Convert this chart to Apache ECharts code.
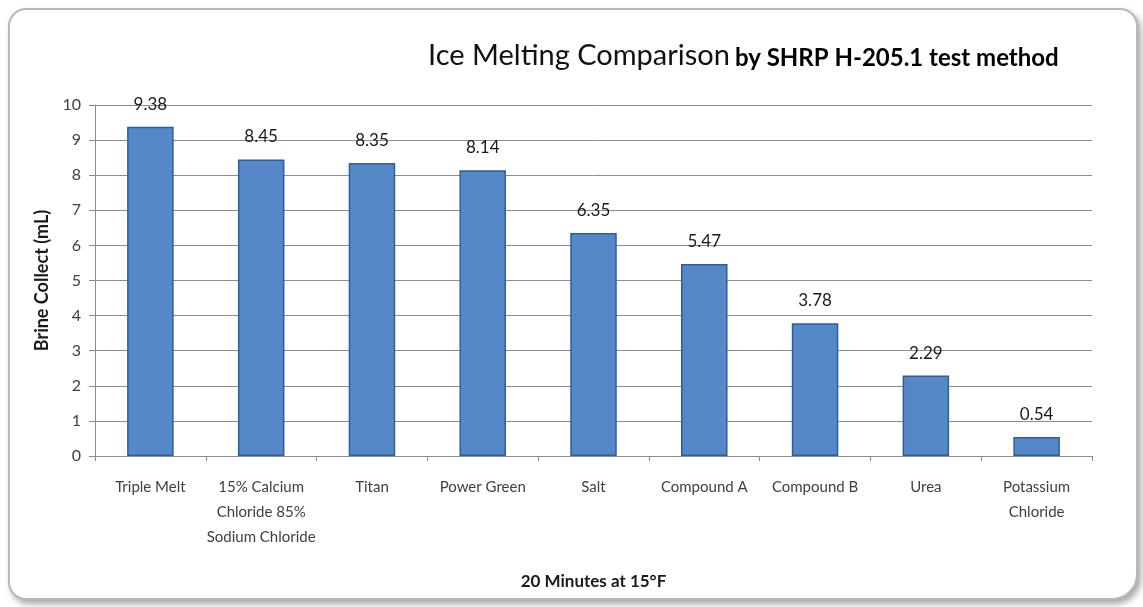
<!DOCTYPE html>
<html>
<head>
<meta charset="utf-8">
<script src="https://cdn.jsdelivr.net/npm/echarts@6/dist/echarts.min.js"></script>
<style>
  html, body { margin: 0; padding: 0; background: #ffffff; }
  #frame {
    position: absolute; left: 8px; top: 8px; width: 1126px; height: 588px;
    border: 2px solid #b8b8b8; border-radius: 18px 18px 26px 18px;
    box-shadow: 3px 4px 6px rgba(0,0,0,0.35);
    background: #ffffff;
  }
  #chart { position: absolute; left: 0; top: 0; width: 1143px; height: 607px; }
</style>
</head>
<body>
<div id="frame"></div>
<div id="chart"></div>
<script>
// chart data
var categories = ['Triple Melt', '15% Calcium\nChloride 85%\nSodium Chloride', 'Titan', 'Power Green', 'Salt', 'Compound A', 'Compound B', 'Urea', 'Potassium\nChloride'];
var brineValues = [9.38, 8.45, 8.35, 8.14, 6.35, 5.47, 3.78, 2.29, 0.54];
var yTicks = [0, 1, 2, 3, 4, 5, 6, 7, 8, 9, 10];

var myChart = echarts.init(document.getElementById('chart'));
var option = {
    title: {
        text: '{a|Ice Melting Comparison} {b|by SHRP H-205.1 test method}',
        left: 423,
        top: 36,
        textStyle: {
            fontWeight: 'normal',
            rich: {
                a: { fontFamily: 'Lato', fontSize: 29, fontWeight: 'normal', color: '#111111', verticalAlign: 'bottom' },
                b: { fontFamily: 'Lato', fontSize: 24, fontWeight: 'bold', color: '#000000', verticalAlign: 'bottom' }
            }
        }
    },
    grid: {
        left: 95,
        right: 51,
        top: 105,
        bottom: 151
    },
    xAxis: {
        type: 'category',
        data: categories,
        name: '20 Minutes at 15°F',
        nameLocation: 'middle',
        nameGap: 117,
        nameTextStyle: { fontFamily: 'Lato', fontSize: 17, fontWeight: 'bold', color: '#1a1a1a' },
        axisLine: { lineStyle: { color: '#8c8c8c', width: 1 } },
        axisTick: { show: true, length: 5, lineStyle: { color: '#8c8c8c' } },
        axisLabel: {
            interval: 0,
            margin: 19,
            fontFamily: 'Lato',
            fontSize: 15,
            lineHeight: 25,
            color: '#404040'
        }
    },
    yAxis: {
        type: 'value',
        min: yTicks[0],
        max: yTicks[yTicks.length - 1],
        interval: 1,
        name: 'Brine Collect (mL)',
        nameLocation: 'middle',
        nameGap: 40,
        nameTextStyle: { fontFamily: 'Lato', fontSize: 18, fontWeight: 'bold', color: '#1a1a1a' },
        axisLine: { show: true, lineStyle: { color: '#8c8c8c', width: 1 } },
        axisTick: { show: true, length: 6, lineStyle: { color: '#8c8c8c' } },
        axisLabel: { fontFamily: 'Lato', fontSize: 16, color: '#404040', margin: 14 },
        splitLine: { lineStyle: { color: '#8c8c8c', width: 1 } }
    },
    series: [
        {
            type: 'bar',
            data: brineValues,
            barWidth: '42%',
            itemStyle: {
                color: '#5588c8',
                borderColor: '#2f5e98',
                borderWidth: 1.5
            },
            label: {
                show: true,
                position: 'top',
                distance: 14,
                fontFamily: 'Lato',
                fontSize: 17,
                color: '#1a1a1a',
                formatter: function (p) { return p.value.toFixed(2); }
            }
        }
    ]
};
myChart.setOption(option, true);
</script>
</body>
</html>
